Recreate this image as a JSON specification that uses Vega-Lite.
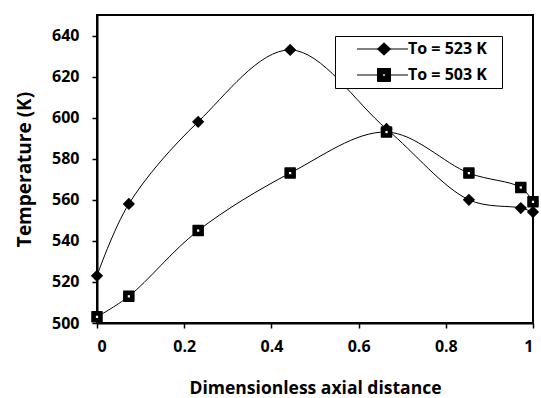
{
  "$schema": "https://vega.github.io/schema/vega-lite/v6.json",
  "width": 436,
  "height": 308,
  "autosize": {"type": "none"},
  "padding": {"left": 97, "top": 15, "right": 8, "bottom": 75},
  "background": "white",
  "config": {
    "font": "Open Sans",
    "view": {"stroke": "black", "strokeWidth": 2},
    "axis": {
      "domainColor": "black", "domainWidth": 2,
      "tickColor": "black", "tickWidth": 1.5, "tickSize": 5,
      "grid": false,
      "labelFont": "Open Sans", "labelFontWeight": "bold", "labelFontSize": 16, "labelColor": "black",
      "titleFont": "Open Sans", "titleFontWeight": "bold", "titleColor": "black"
    }
  },
  "data": {
    "values": [
      {"x": 0, "T": 523, "series": "To = 523 K"},
      {"x": 0.073, "T": 558, "series": "To = 523 K"},
      {"x": 0.232, "T": 598, "series": "To = 523 K"},
      {"x": 0.443, "T": 633, "series": "To = 523 K"},
      {"x": 0.664, "T": 594.5, "series": "To = 523 K"},
      {"x": 0.853, "T": 560, "series": "To = 523 K"},
      {"x": 0.972, "T": 556, "series": "To = 523 K"},
      {"x": 1, "T": 554, "series": "To = 523 K"},
      {"x": 0, "T": 503, "series": "To = 503 K"},
      {"x": 0.073, "T": 513, "series": "To = 503 K"},
      {"x": 0.232, "T": 545, "series": "To = 503 K"},
      {"x": 0.443, "T": 573, "series": "To = 503 K"},
      {"x": 0.664, "T": 593, "series": "To = 503 K"},
      {"x": 0.853, "T": 573, "series": "To = 503 K"},
      {"x": 0.972, "T": 566, "series": "To = 503 K"},
      {"x": 1, "T": 559, "series": "To = 503 K"}
    ]
  },
  "encoding": {
    "x": {
      "field": "x", "type": "quantitative",
      "scale": {"domain": [0, 1], "nice": false},
      "axis": {"values": [0, 0.2, 0.4, 0.6, 0.8, 1], "format": ".1~f", "title": "Dimensionless axial distance", "titleFontSize": 17.5, "labelPadding": 10, "titlePadding": 25}
    },
    "y": {
      "field": "T", "type": "quantitative",
      "scale": {"domain": [500, 650], "nice": false, "zero": false},
      "axis": {"values": [500, 520, 540, 560, 580, 600, 620, 640], "title": "Temperature (K)", "titleFontSize": 19, "labelPadding": 13, "titlePadding": 17}
    }
  },
  "layer": [
    {
      "mark": {"type": "line", "interpolate": "catmull-rom", "strokeWidth": 1},
      "encoding": {
        "color": {
          "field": "series", "type": "nominal",
          "scale": {"domain": ["To = 523 K", "To = 503 K"], "range": ["black", "black"]},
          "legend": {
            "title": null, "orient": "none", "legendX": 238, "legendY": 21,
            "padding": 5, "strokeColor": "black", "fillColor": "white",
            "labelFont": "Open Sans", "labelFontSize": 16, "labelFontWeight": "bold", "labelColor": "black",
            "symbolSize": 169, "rowPadding": 10, "symbolOffset": 36, "labelOffset": 16,
            "encode": {
              "symbols": {
                "update": {
                  "shape": {"signal": "datum.value === 'To = 523 K' ? 'M17.3,0M-4.15,0H3.7M0,-0.95L1,0L0,0.95L-1,0Z' : 'M17.3,0M-4.15,0H-1M1,0H3.7M-1,-1H1V1H-1ZM-0.2,-0.2V0.2H0.2V-0.2Z'"},
                  "fill": {"value": "black"},
                  "stroke": {"value": "black"},
                  "strokeWidth": {"value": 1},
                  "strokeJoin": {"value": "round"},
                  "opacity": {"value": 1}
                }
              }
            }
          }
        }
      }
    },
    {
      "transform": [{"filter": "datum.series === 'To = 523 K'"}],
      "mark": {"type": "point", "shape": "diamond", "filled": true, "color": "black", "size": 150, "opacity": 1}
    },
    {
      "transform": [{"filter": "datum.series === 'To = 503 K'"}],
      "mark": {"type": "point", "shape": "square", "filled": true, "fill": "black", "stroke": "black", "strokeWidth": 1.5, "strokeJoin": "round", "size": 100, "opacity": 1}
    },
    {
      "transform": [{"filter": "datum.series === 'To = 503 K'"}],
      "mark": {"type": "point", "shape": "square", "filled": true, "color": "white", "size": 5, "opacity": 1}
    }
  ]
}
